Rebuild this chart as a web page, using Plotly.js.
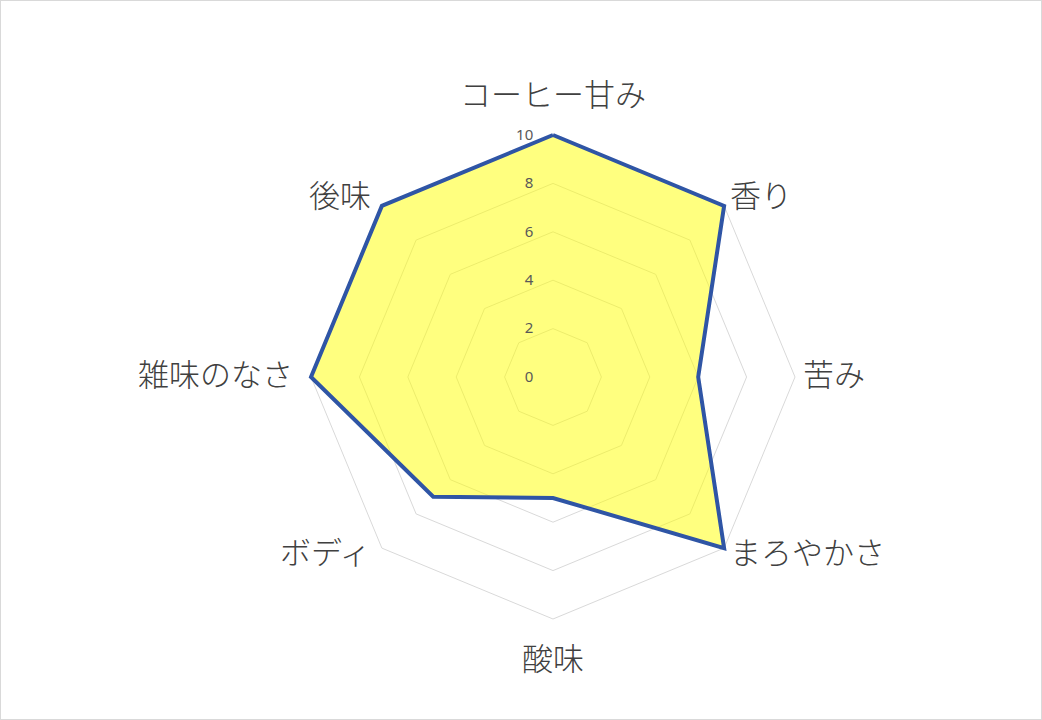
<!DOCTYPE html>
<html>
<head>
<meta charset="utf-8">
<script src="https://cdn.plot.ly/plotly-3.0.1.min.js"></script>
<style>
html,body{margin:0;padding:0;background:#fff;}
#frame{position:absolute;left:0;top:0;width:1040px;height:718px;border:1px solid #D9D9D9;}
#chart{position:absolute;left:-1px;top:-1px;width:1042px;height:720px;}
</style>
</head>
<body>
<div id="frame"><div id="chart"></div></div>
<script>
const categories = ["コーヒー甘み", "香り", "苦み", "まろやかさ", "酸味", "ボディ", "雑味のなさ", "後味"];
const scores = [10, 10, 6, 10, 5, 7, 10, 10];
const radialTicks = [0, 2, 4, 6, 8, 10];

const closedCats = categories.concat([categories[0]]);
const closedVals = scores.concat([scores[0]]);

// radial range slightly beyond the top tick so the thick outline is not clipped
const rMax = 10.2;

const data = [{
  type: "scatterpolar",
  subplot: "polar",
  r: closedVals,
  theta: closedCats,
  mode: "lines",
  fill: "toself",
  fillcolor: "rgba(255,255,0,0.5)",
  line: {color: "#2F55A5", width: 4},
  cliponaxis: false,
  hoverinfo: "skip"
}, {
  // invisible carrier so the overlay subplot (radial tick labels above the fill) is drawn
  type: "scatterpolar",
  subplot: "polar2",
  r: [0],
  theta: [categories[0]],
  mode: "markers",
  marker: {opacity: 0},
  hoverinfo: "skip"
}];

const W = 1042, H = 720, cx = 553, cy = 377, R = 242;
const RD = R * rMax / 10;
const catFont = {family: "'Noto Sans CJK JP', sans-serif", size: 31, color: "#404040", weight: 300};

// category labels placed just outside the outer ring, Excel-style
const annotations = categories.map(function (c, i) {
  const a = 2 * Math.PI * i / categories.length;
  const s = Math.sin(a), co = Math.cos(a);
  let px, py, xa = "center";
  if (Math.abs(s) < 0.1) {
    px = cx;
    py = cy - co * (R + (co > 0 ? 43 : 37));
  } else if (Math.abs(co) < 0.1) {
    px = cx + s * (R + (s > 0 ? 6 : 16));
    py = cy - 4;
    xa = s > 0 ? "left" : "right";
  } else {
    px = cx + s * R + (s > 0 ? 4 : -9);
    py = cy - co * R + (co > 0 ? -12 : 2);
    xa = s > 0 ? "left" : "right";
  }
  return {
    text: c, xref: "paper", yref: "paper",
    x: px / W, y: (H - py) / H,
    xanchor: xa, yanchor: "middle",
    showarrow: false, font: catFont
  };
});

const dom = {x: [(cx - RD) / W, (cx + RD) / W], y: [(H - cy - RD) / H, (H - cy + RD) / H]};

const layout = {
  width: W, height: H,
  margin: {l: 0, r: 0, t: 0, b: 0},
  paper_bgcolor: "rgba(0,0,0,0)",
  showlegend: false,
  font: {family: "'Noto Sans CJK JP', 'Noto Sans', sans-serif", color: "#404040"},
  annotations: annotations,
  polar: {
    domain: dom,
    bgcolor: "rgba(0,0,0,0)",
    gridshape: "linear",
    angularaxis: {
      direction: "clockwise",
      rotation: 90,
      showgrid: false,
      showline: false,
      ticks: "",
      showticklabels: false,
      layer: "below traces"
    },
    radialaxis: {
      range: [0, rMax],
      angle: 90,
      tickvals: radialTicks,
      showline: false,
      ticks: "",
      showticklabels: false,
      showgrid: true,
      gridcolor: "#D9D9D9",
      gridwidth: 1,
      layer: "below traces"
    }
  },
  polar2: {
    domain: dom,
    bgcolor: "rgba(0,0,0,0)",
    gridshape: "linear",
    angularaxis: {
      direction: "clockwise",
      rotation: 90,
      categoryarray: categories,
      categoryorder: "array",
      type: "category",
      showgrid: false,
      showline: false,
      ticks: "",
      showticklabels: false
    },
    radialaxis: {
      range: [0, rMax],
      angle: 90,
      tickangle: 90,
      side: "counterclockwise",
      tickvals: radialTicks,
      ticktext: radialTicks.map(String),
      showline: false,
      showgrid: false,
      ticks: "outside",
      ticklen: 14,
      tickcolor: "rgba(0,0,0,0)",
      layer: "above traces",
      tickfont: {size: 15, color: "#595959", family: "'Noto Sans', 'DejaVu Sans', sans-serif"}
    }
  }
};

Plotly.newPlot("chart", data, layout, {displayModeBar: false, staticPlot: true});
</script>
</body>
</html>
